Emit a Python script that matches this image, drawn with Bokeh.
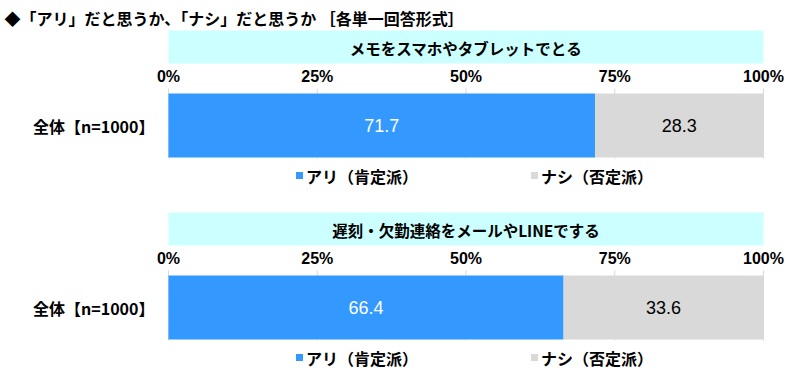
from bokeh.plotting import figure
from bokeh.models import Range1d
from bokeh.core.properties import value
from bokeh.embed import file_html
from bokeh.resources import INLINE

# ---- data ----
title = "◆「アリ」だと思うか、「ナシ」だと思うか ［各単一回答形式］"
questions = ["メモをスマホやタブレットでとる", "遅刻・欠勤連絡をメールやLINEでする"]
group_label = "全体【n=1000】"
series_names = ["アリ（肯定派）", "ナシ（否定派）"]
ari = [71.7, 66.4]
nashi = [28.3, 33.6]
tick_values = [0, 25, 50, 75, 100]
tick_labels = ["0%", "25%", "50%", "75%", "100%"]

# ---- style ----
colors = ["#3399FF", "#D9D9D9"]
header_color = "#CCFFFF"
jp = value("Noto Sans CJK JP")
num = value("Liberation Sans")

W, H = 800, 370
# x in percent units: 0% at px 168, 100% at px 763
PX = 5.95
ORG = 168
x0 = (0 - ORG) / PX
x1 = (W - ORG) / PX

def px(v):
    return (v - ORG) / PX

p = figure(width=W, height=H, output_backend="svg", toolbar_location=None,
           x_range=Range1d(x0, x1), y_range=Range1d(H, 0),
           min_border=0, min_border_left=0, min_border_right=0,
           min_border_top=0, min_border_bottom=0)
p.axis.visible = False
p.grid.visible = False
p.outline_line_color = None
p.background_fill_color = "white"
p.border_fill_color = "white"

# title
p.text(x=[px(4)], y=[17], text=[title], text_font=jp, text_font_style="bold",
       text_font_size="16px", text_baseline="middle", text_align="left", color="black")

offsets = [0, 182]
for i, q in enumerate(questions):
    o = offsets[i]
    # header band
    p.quad(left=[0], right=[100], top=[30 + o], bottom=[63 + o],
           fill_color=header_color, line_color=None)
    p.text(x=[50], y=[47 + o], text=[q], text_font=jp, text_font_style="bold",
           text_font_size="15.5px", text_align="center", text_baseline="middle", color="black")
    # tick labels
    p.text(x=tick_values, y=[76 + o] * len(tick_values), text=tick_labels,
           text_font=num, text_font_style="bold", text_font_size="16px",
           text_align="center", text_baseline="middle", color="black")
    # grid lines
    p.segment(x0=tick_values, x1=tick_values, y0=[88 + o] * len(tick_values),
              y1=[158 + o] * len(tick_values), line_color="#D9D9D9", line_width=1)
    # bars
    yc = 125 + o
    p.hbar(y=[yc], left=[0], right=[ari[i]], height=64,
           fill_color=colors[0], line_color=None)
    p.hbar(y=[yc], left=[ari[i]], right=[ari[i] + nashi[i]], height=64,
           fill_color=colors[1], line_color=None)
    # value labels
    p.text(x=[ari[i] / 2], y=[yc], text=[f"{ari[i]:.1f}"], text_font=num,
           text_font_size="18px", text_align="center", text_baseline="middle", color="white")
    p.text(x=[ari[i] + nashi[i] / 2], y=[yc], text=[f"{nashi[i]:.1f}"], text_font=num,
           text_font_size="18px", text_align="center", text_baseline="middle", color="black")
    # category label
    p.text(x=[px(154)], y=[yc], text=[group_label], text_font=jp,
           text_font_style="bold", text_font_size="16px", text_align="right",
           text_baseline="middle", color="black")
    # legend
    lx = [px(299), px(534)]
    p.scatter(x=lx, y=[175 + o] * 2, marker="square", size=7,
              fill_color=colors, line_color=None)
    p.text(x=[v + 1.1 for v in lx], y=[175 + o] * 2, text=series_names, text_font=jp,
           text_font_style="bold", text_font_size="16px", text_align="left",
           text_baseline="middle", color="black")

open("out.html", "w").write(file_html(p, INLINE))
